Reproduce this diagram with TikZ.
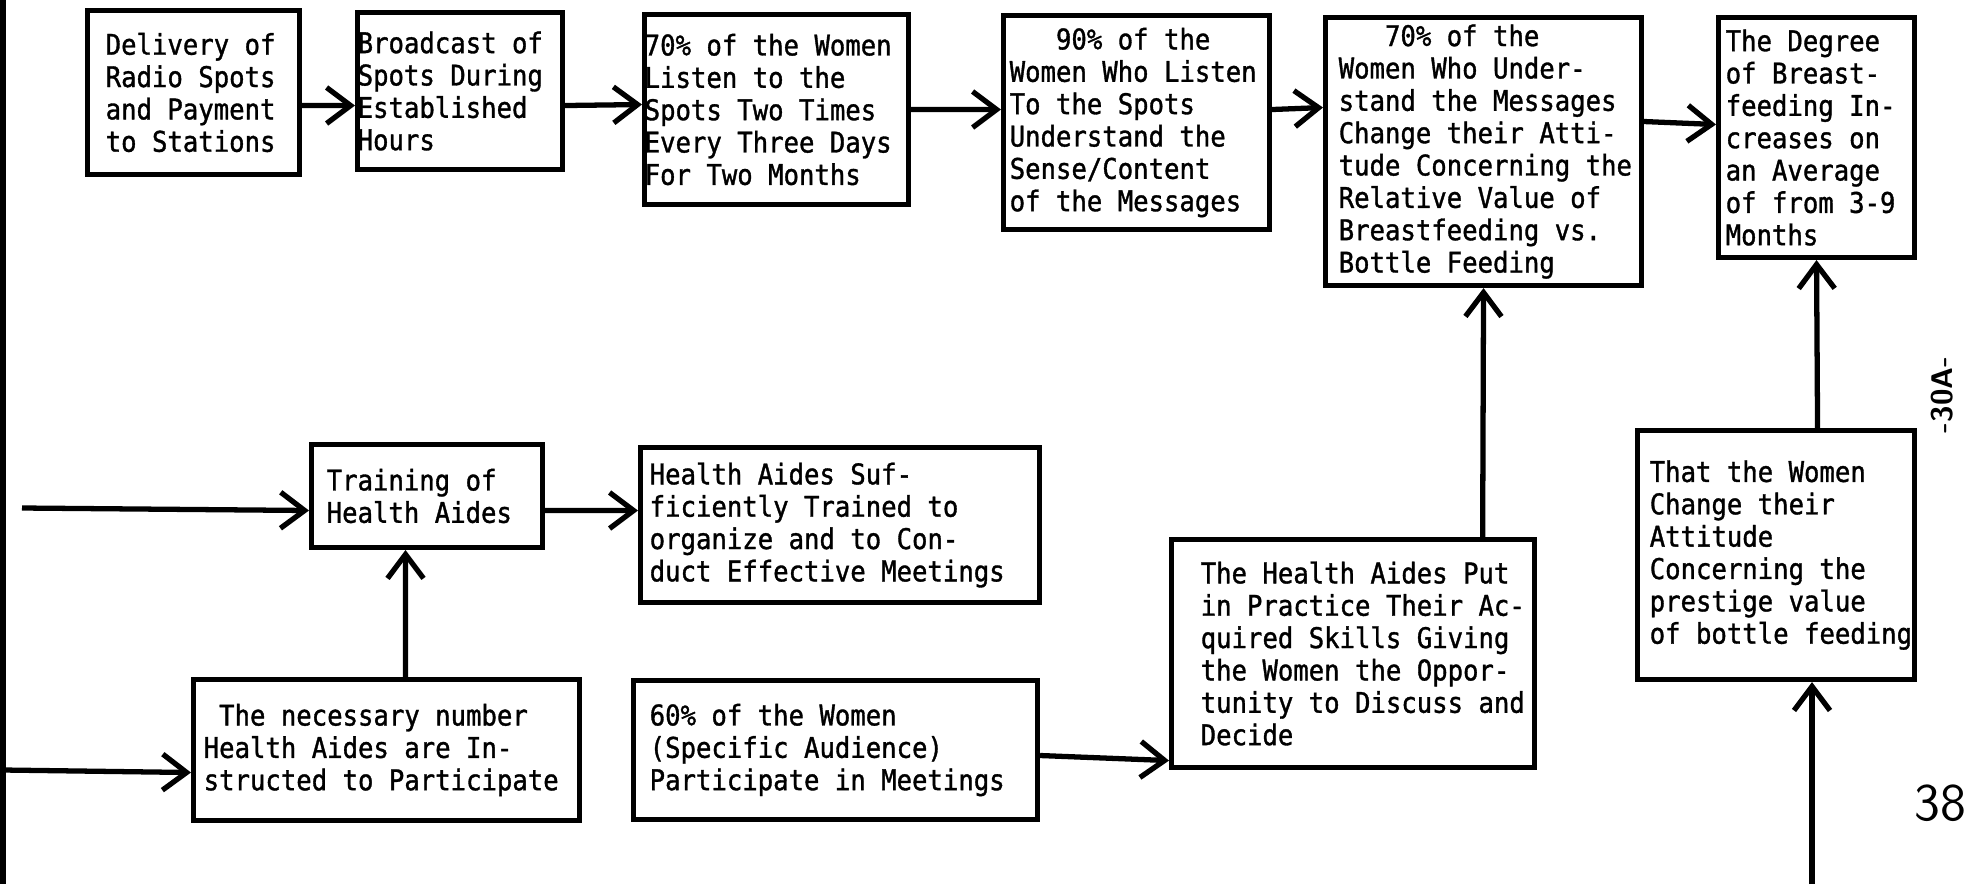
\documentclass[tikz,border=0pt]{standalone}
\usepackage{fontspec}
\setmonofont[FakeStretch=0.9,FakeBold=1.2]{DejaVu Sans Mono}
\usetikzlibrary{arrows.meta}
\tikzstyle{box}=[draw,line width=1.4pt,inner sep=0pt,anchor=north west]
\tikzstyle{boxtext}=[font=\ttfamily\fontsize{8.1}{9.2}\selectfont,align=left,anchor=west,inner sep=0pt]
\tikzstyle{flow}=[line width=1.5pt,-{Straight Barb[length=2.4mm,width=3.6mm]}]
\newcommand{\flowbox}[6]{% name, top left corner, width, height, text margin, text
  \node[box,minimum width=#3,minimum height=#4] (#1) at (#2) {};
  \node[boxtext] (#1text) at ([xshift=#5]#1.west) {#6};
}
\newcommand{\ind}{\phantom{000}}

\begin{document}
\begin{tikzpicture}[x=0.01cm,y=-0.01cm]
  \useasboundingbox (0,0) rectangle (1969,884);
  % top row: the radio spots
  \flowbox{delivery}{85,8}{2.12cm}{1.64cm}{0.2cm}{Delivery of\\Radio Spots\\and Payment\\to Stations}
  \flowbox{broadcast}{355,10}{2.05cm}{1.57cm}{0.02cm}{Broadcast of\\Spots During\\Established\\Hours}
  \flowbox{listen}{642,12}{2.64cm}{1.90cm}{0.02cm}{70\% of the Women\\Listen to the\\Spots Two Times\\Every Three Days\\For Two Months}
  \flowbox{understand}{1001,13}{2.66cm}{2.14cm}{0.08cm}{\ind90\% of the\\Women Who Listen\\To the Spots\\Understand the\\Sense/Content\\of the Messages}
  \flowbox{attitude}{1323,15}{3.16cm}{2.68cm}{0.15cm}{\ind70\% of the\\Women Who Under-\\stand the Messages\\Change their Atti-\\tude Concerning the\\Relative Value of\\Breastfeeding vs.\\Bottle Feeding}
  \flowbox{degree}{1716,15}{1.96cm}{2.40cm}{0.09cm}{The Degree\\of Breast-\\feeding In-\\creases on\\an Average\\of from 3-9\\Months}
  % lower part: the health aides
  \flowbox{training}{309,442}{2.31cm}{1.03cm}{0.17cm}{Training of\\Health Aides}
  \flowbox{trained}{638,445}{3.99cm}{1.55cm}{0.11cm}{Health Aides Suf-\\ficiently Trained to\\organize and to Con-\\duct Effective Meetings}
  \flowbox{number}{191,677}{3.86cm}{1.41cm}{0.12cm}{\phantom{0}The necessary number\\Health Aides are In-\\structed to Participate}
  \flowbox{sixty}{631,678}{4.04cm}{1.39cm}{0.18cm}{60\% of the Women\\(Specific Audience)\\Participate in Meetings}
  \flowbox{practice}{1169,537}{3.63cm}{2.28cm}{0.31cm}{The Health Aides Put\\in Practice Their Ac-\\quired Skills Giving\\the Women the Oppor-\\tunity to Discuss and\\Decide}
  \flowbox{prestige}{1635,428}{2.77cm}{2.49cm}{0.14cm}{That the Women\\Change their\\Attitude\\Concerning the\\prestige value\\of bottle feeding}

  \coordinate (edgetop) at (3,0);
  \coordinate (edgebot) at (3,884);
  \coordinate (inA) at (22,508);
  \coordinate (inB) at (3,770);
  \coordinate (feed) at (1812,884);
  \draw[line width=1.6pt] (edgetop) -- (edgebot);

  \draw[flow] ([yshift=-0.13cm]delivery.east) -- ([yshift=-0.145cm]broadcast.west);
  \draw[flow] ([yshift=-0.145cm]broadcast.east) -- ([yshift=0.05cm]listen.west);
  \draw[flow] (listen.east) -- ([yshift=0.13cm]understand.west);
  \draw[flow] ([yshift=0.13cm]understand.east) -- ([yshift=0.44cm]attitude.west);
  \draw[flow] ([yshift=0.30cm]attitude.east) -- ([yshift=0.13cm]degree.west);
  \draw[flow] ([xshift=1.295cm]practice.north) -- (attitude.south);
  \draw[flow] ([xshift=0.415cm]prestige.north) -- (degree.south);
  \draw[flow] (feed) -- (feed |- prestige.south);
  \draw[flow] (inA) -- ([yshift=-0.145cm]training.west);
  \draw[flow] ([yshift=-0.145cm]training.east) -- ([yshift=0.145cm]trained.west);
  \draw[flow] ([xshift=0.19cm]number.north) -- ([xshift=-0.215cm]training.south);
  \draw[flow] (inB) -- ([yshift=-0.225cm]number.west);
  \draw[flow] ([yshift=-0.055cm]sixty.east) -- ([yshift=-1.07cm]practice.west);

  \node[font=\sffamily\bfseries\fontsize{8.5}{10}\selectfont,rotate=90] (pageno) at (1942,395) {-30A-};
  \node[font=\sffamily\fontsize{15}{18}\selectfont] (sheet) at (1940,803) {38};
\end{tikzpicture}
\end{document}
